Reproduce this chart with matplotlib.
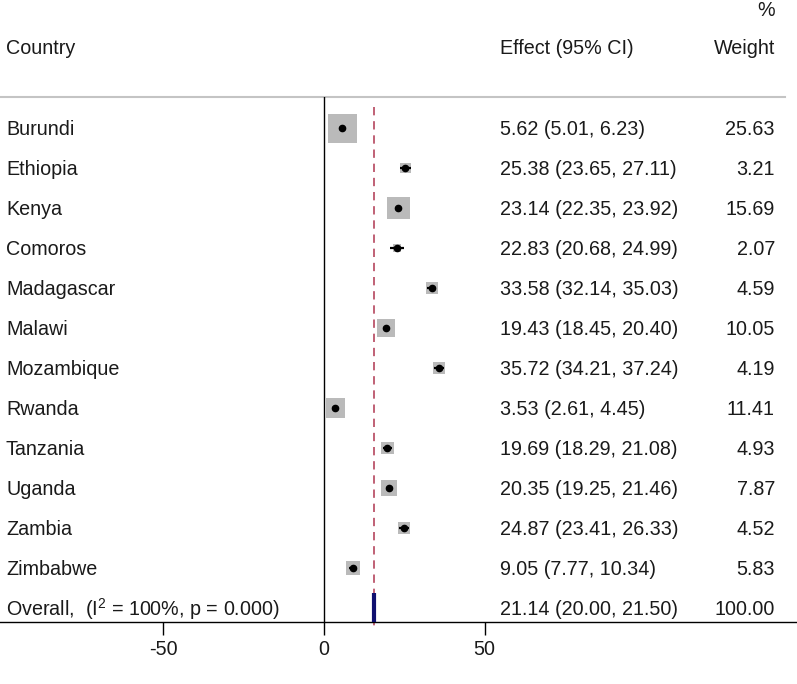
import matplotlib
matplotlib.use("Agg")
import matplotlib.pyplot as plt
import matplotlib.transforms as mtransforms
import numpy as np

plt.rcParams['font.family'] = ['Liberation Sans', 'DejaVu Sans']
plt.rcParams['mathtext.fontset'] = 'custom'
plt.rcParams['mathtext.rm'] = 'Liberation Sans'
plt.rcParams['mathtext.it'] = 'Liberation Sans'

countries = ["Burundi", "Ethiopia", "Kenya", "Comoros", "Madagascar", "Malawi",
             "Mozambique", "Rwanda", "Tanzania", "Uganda", "Zambia", "Zimbabwe"]
effect = [5.62, 25.38, 23.14, 22.83, 33.58, 19.43, 35.72, 3.53, 19.69, 20.35, 24.87, 9.05]
ci_low = [5.01, 23.65, 22.35, 20.68, 32.14, 18.45, 34.21, 2.61, 18.29, 19.25, 23.41, 7.77]
ci_high = [6.23, 27.11, 23.92, 24.99, 35.03, 20.40, 37.24, 4.45, 21.08, 21.46, 26.33, 10.34]
weight = [25.63, 3.21, 15.69, 2.07, 4.59, 10.05, 4.19, 11.41, 4.93, 7.87, 4.52, 5.83]

overall_label = r"Overall,  (I$^{2}$ = 100%, p = 0.000)"
overall_text = "21.14 (20.00, 21.50)"
overall_weight = "100.00"
overall_marker = 15.7   # position where the pooled marker / reference line is drawn

xticks = [-50, 0, 50]

W, H = 797, 684
fig = plt.figure(figsize=(W / 100, H / 100), dpi=100)
ax = fig.add_axes([0, 62 / H, 1, 525 / H])

px_per_unit = 3.21
x0_px = 324
ax.set_xlim(-x0_px / px_per_unit, (W - x0_px) / px_per_unit)
# rows: row i at pixel 88 + 40 i
ax.set_ylim((622 - 88) / 40, (97 - 88) / 40)

fs = 14.2
tc = '#1a1a1a'

for s in ["top", "left", "right"]:
    ax.spines[s].set_visible(False)
ax.spines["bottom"].set_linewidth(1.0)
ax.set_yticks([])
ax.set_xticks(xticks)
ax.set_xticklabels([str(t) for t in xticks])
ax.tick_params(axis='x', direction='out', length=9, width=1, labelsize=fs, pad=4,
               colors='black', labelcolor=tc)

# header line
ax.plot([0, 785 / W], [1, 1], transform=ax.transAxes, color='#c4c4c4', lw=1.5, clip_on=False)

# zero line
ax.axvline(0, color='black', lw=1.0)

# reference dashed line
ax.plot([overall_marker, overall_marker], [0.475, 13.5], color='#b5455e', lw=1.2,
        dashes=(5, 3.5), clip_on=False, zorder=1)

rows = np.arange(1, len(countries) + 1)
side_px = 29 * np.sqrt(np.array(weight) / max(weight))
sizes = (side_px * 0.72) ** 2
ax.scatter(effect, rows, s=sizes, marker='s', color='#bababa', edgecolors='none', zorder=2)
ax.hlines(rows, ci_low, ci_high, color='black', lw=1.6, zorder=3)
ax.plot(effect, rows, 'o', color='black', ms=4.5, zorder=4)

orow = len(countries) + 1
ax.plot([overall_marker, overall_marker], [orow - 0.38, orow + 0.42], color='#101070',
        lw=3, solid_capstyle='butt', zorder=4)

trans = mtransforms.blended_transform_factory(ax.transAxes, ax.transData)
for r, c, e, lo, hi, w in zip(rows, countries, effect, ci_low, ci_high, weight):
    ax.text(6 / W, r + 0.03, c, transform=trans, ha='left', va='center', fontsize=fs, color=tc)
    ax.text(500 / W, r + 0.03, f"{e:.2f} ({lo:.2f}, {hi:.2f})", transform=trans, ha='left',
            va='center', fontsize=fs, color=tc)
    ax.text(775 / W, r + 0.03, f"{w:.2f}", transform=trans, ha='right', va='center',
            fontsize=fs, color=tc)

ax.text(6 / W, orow + 0.03, overall_label, transform=trans, ha='left', va='center',
        fontsize=fs, color=tc)
ax.text(500 / W, orow + 0.03, overall_text, transform=trans, ha='left', va='center',
        fontsize=fs, color=tc)
ax.text(775 / W, orow + 0.03, overall_weight, transform=trans, ha='right', va='center',
        fontsize=fs, color=tc)

# column headers
fig.text(6 / W, 1 - 48 / H, "Country", ha='left', va='center', fontsize=fs, color=tc)
fig.text(500 / W, 1 - 48 / H, "Effect (95% CI)", ha='left', va='center', fontsize=fs, color=tc)
fig.text(775 / W, 1 - 48 / H, "Weight", ha='right', va='center', fontsize=fs, color=tc)
fig.text(775 / W, 1 - 10 / H, "%", ha='right', va='center', fontsize=fs, color=tc)

fig.savefig("out.png", dpi=100)
